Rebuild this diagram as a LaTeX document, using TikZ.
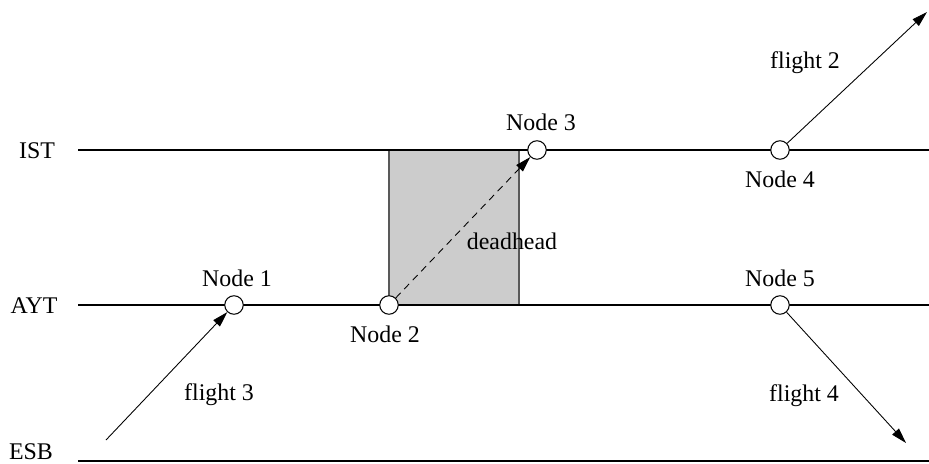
\documentclass[tikz,border=0pt]{standalone}
\usepackage{fontspec}
\setmainfont{Liberation Serif}
\usetikzlibrary{arrows.meta, positioning}

\begin{document}
\begin{tikzpicture}[
    x=0.02cm, y=-0.02cm,
    every node/.style={font=\fontsize{13.6}{16}\selectfont},
    station/.style={line width=0.6pt},
    event/.style={circle, draw, fill=white, line width=0.6pt, minimum size=0.37cm, inner sep=0pt},
    tag/.style={inner sep=1pt},
    flight/.style={-{Triangle[length=0.31cm, width=0.18cm]}, line width=0.5pt},
    deadhead/.style={flight, dash pattern=on 4pt off 3pt}
]
\useasboundingbox (0,0) rectangle (929,463);

% Stations
\node (ist) at (37,151) {IST};
\node (ayt) at (34,306) {AYT};
\node (esb) at (31,452) {ESB};
\coordinate (ist_l) at (78,150);  \coordinate (ist_r) at (929,150);
\coordinate (ayt_l) at (78,305);  \coordinate (ayt_r) at (929,305);
\coordinate (esb_l) at (78,461);  \coordinate (esb_r) at (929,461);

% Ground time window
\fill[black!20] (389,150) rectangle (519,305);
\draw[black!65, line width=0.6pt] (389,150) -- (389,305) (519,150) -- (519,305);

\draw[station] (ist_l) -- (ist_r);
\draw[station] (ayt_l) -- (ayt_r);
\draw[station] (esb_l) -- (esb_r);

% Events
\node[event] (n1) at (234,305) {};
\node[event] (n2) at (389,305) {};
\node[event] (n3) at (537,150) {};
\node[event] (n4) at (780,150) {};
\node[event] (n5) at (780,305) {};

\node[tag, above=0.12cm of n1, xshift=0.06cm] (n1_lbl) {Node 1};
\node[tag, below=0.18cm of n2, xshift=-0.08cm] (n2_lbl) {Node 2};
\node[tag, above=0.14cm of n3, xshift=0.08cm] (n3_lbl) {Node 3};
\node[tag, below=0.18cm of n4] (n4_lbl) {Node 4};
\node[tag, above=0.12cm of n5] (n5_lbl) {Node 5};

% Flights
\coordinate (f3_from) at (106,440);
\coordinate (f2_to) at (927,12);
\coordinate (f4_to) at (906,443);

\draw[flight] (f3_from) -- (n1);
\draw[flight] (n4) -- (f2_to);
\draw[flight] (n5) -- (f4_to);
\draw[deadhead] (n2) -- (n3);

\node (f3_lbl) at (219,395) {flight 3};
\node (f2_lbl) at (805,63) {flight 2};
\node (f4_lbl) at (804,396) {flight 4};
\node (dh_lbl) at (512,241) {deadhead};

\end{tikzpicture}
\end{document}
